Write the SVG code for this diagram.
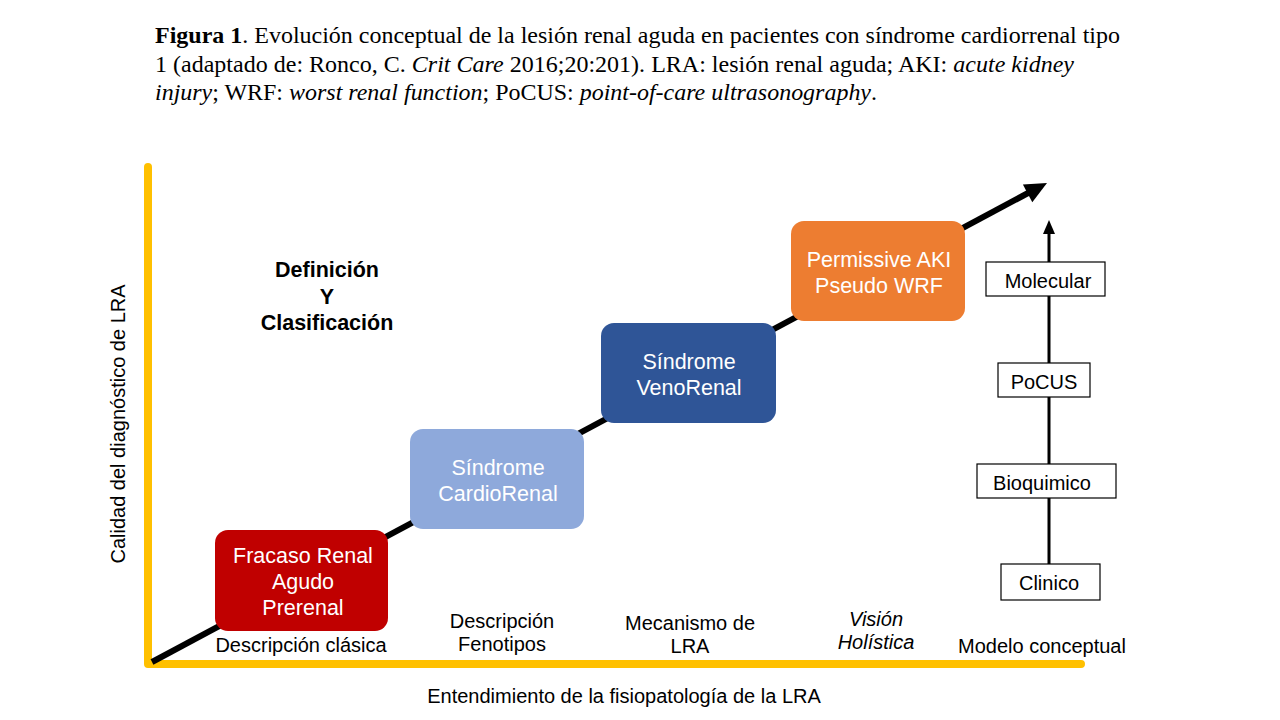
<svg xmlns="http://www.w3.org/2000/svg" width="1280" height="720" viewBox="0 0 1280 720">
<defs>
<style>
.cap{font-family:"Liberation Serif",serif;font-size:22.5px;fill:#000}
.s{font-family:"Liberation Sans",Arial,sans-serif;fill:#000}
.bw{font-family:"Liberation Sans",Arial,sans-serif;font-size:21.5px;fill:#fff;text-anchor:middle}
.lbl{font-family:"Liberation Sans",Arial,sans-serif;font-size:20px;fill:#000;text-anchor:middle}
.sb{fill:#fff;stroke:#000;stroke-width:1.2}
</style>
</defs>
<rect width="1280" height="720" fill="#fff"/>
<g id="caption">
<text class="cap" x="155" y="43" textLength="965" lengthAdjust="spacingAndGlyphs"><tspan font-weight="bold">Figura 1</tspan>. Evolución conceptual de la lesión renal aguda en pacientes con síndrome  cardiorrenal tipo</text>
<text class="cap" x="155" y="72" textLength="919" lengthAdjust="spacingAndGlyphs">1 (adaptado de: Ronco, C. <tspan font-style="italic">Crit Care</tspan> 2016;20:201). LRA: lesión renal aguda; AKI: <tspan font-style="italic">acute kidney</tspan></text>
<text class="cap" x="155" y="100" textLength="722" lengthAdjust="spacingAndGlyphs"><tspan font-style="italic">injury</tspan>; WRF: <tspan font-style="italic">worst renal function</tspan>; PoCUS: <tspan font-style="italic">point-of-care ultrasonography</tspan>.</text>
</g>
<g id="axes">
<path d="M148,167 L148,664 L1081,664" fill="none" stroke="#FFC000" stroke-width="8" stroke-linecap="round" stroke-linejoin="round"/>
<text class="lbl" x="624" y="703">Entendimiento de la fisiopatología de la LRA</text>
<text class="lbl" font-size="20.3" transform="translate(125,424) rotate(-90)">Calidad del diagnóstico de LRA</text>
</g>
<g id="connectors">
<line x1="152" y1="662" x2="1030" y2="192" stroke="#000" stroke-width="6"/>
<path d="M1047,183 L1022.9,184.6 L1032.3,202.2 z" fill="#000"/>
<line x1="1049" y1="564" x2="1049" y2="232" stroke="#000" stroke-width="3"/>
<path d="M1043,234 L1049,220 L1055,234 z" fill="#000"/>
</g>
<g id="title-def">
<text class="s" font-size="21.5" font-weight="bold" text-anchor="middle"><tspan x="327" y="277">Definición</tspan><tspan x="327" y="304">Y</tspan><tspan x="327" y="330">Clasificación</tspan></text>
</g>
<g id="n-fracaso">
<rect x="215" y="530" width="173" height="101" rx="13" fill="#C00000"/>
<text class="bw"><tspan x="303" y="563">Fracaso Renal</tspan><tspan x="303" y="589">Agudo</tspan><tspan x="303" y="615">Prerenal</tspan></text>
</g>
<g id="n-cardiorenal">
<rect x="410" y="429" width="174" height="100" rx="13" fill="#8EA9DB"/>
<text class="bw"><tspan x="498" y="475">Síndrome</tspan><tspan x="498" y="501">CardioRenal</tspan></text>
</g>
<g id="n-venorenal">
<rect x="601" y="323" width="175" height="100" rx="13" fill="#2F5597"/>
<text class="bw"><tspan x="689" y="369">Síndrome</tspan><tspan x="689" y="395">VenoRenal</tspan></text>
</g>
<g id="n-permissive">
<rect x="791" y="221" width="174" height="100" rx="13" fill="#ED7D31"/>
<text class="bw"><tspan x="879" y="267">Permissive AKI</tspan><tspan x="879" y="293">Pseudo WRF</tspan></text>
</g>
<g id="n-molecular">
<rect class="sb" x="986" y="262" width="119" height="34"/>
<text class="lbl" x="1048" y="288">Molecular</text>
</g>
<g id="n-pocus">
<rect class="sb" x="998" y="363" width="92" height="34"/>
<text class="lbl" x="1044" y="389">PoCUS</text>
</g>
<g id="n-bioquimico">
<rect class="sb" x="977" y="464" width="139" height="34"/>
<text class="lbl" x="1042" y="490">Bioquimico</text>
</g>
<g id="n-clinico">
<rect class="sb" x="1001" y="564" width="99" height="36"/>
<text class="lbl" x="1049" y="590">Clinico</text>
</g>
<g id="stage-labels">
<text class="lbl" x="301" y="652">Descripción clásica</text>
<text class="lbl"><tspan x="502" y="628">Descripción</tspan><tspan x="502" y="651">Fenotipos</tspan></text>
<text class="lbl"><tspan x="690" y="630">Mecanismo de</tspan><tspan x="690" y="653">LRA</tspan></text>
<text class="lbl" font-style="italic"><tspan x="876" y="626">Visión</tspan><tspan x="876" y="649">Holística</tspan></text>
<text class="lbl" x="1042" y="653">Modelo conceptual</text>
</g>
</svg>
